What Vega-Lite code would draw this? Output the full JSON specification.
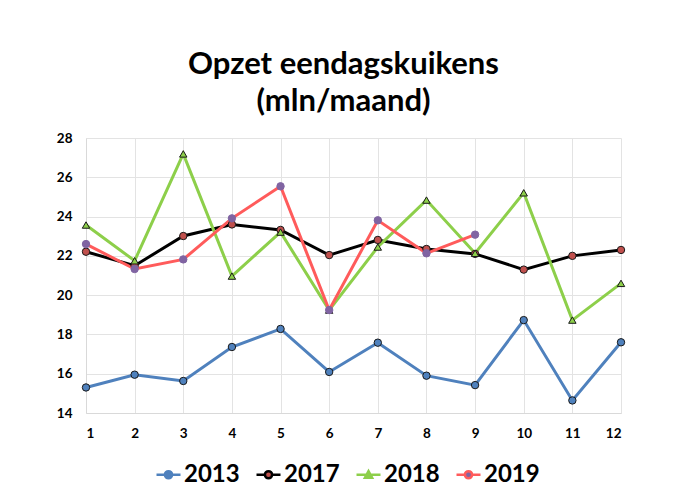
{
  "$schema": "https://vega.github.io/schema/vega-lite/v6.json",
  "width": 535,
  "height": 275,
  "autosize": {"type": "none"},
  "padding": {"left": 86, "top": 138, "right": 55, "bottom": 91},
  "background": "white",
  "title": {
    "text": ["Opzet eendagskuikens", "(mln/maand)"],
    "font": "Lato",
    "fontSize": 31,
    "fontWeight": "bold",
    "color": "#000000",
    "lineHeight": 37,
    "anchor": "middle",
    "dx": -10,
    "offset": 13
  },
  "data": {
    "values": [
      {"month": 1, "year": "2013", "value": 15.3},
      {"month": 2, "year": "2013", "value": 15.95},
      {"month": 3, "year": "2013", "value": 15.63},
      {"month": 4, "year": "2013", "value": 17.36},
      {"month": 5, "year": "2013", "value": 18.28},
      {"month": 6, "year": "2013", "value": 16.09},
      {"month": 7, "year": "2013", "value": 17.58},
      {"month": 8, "year": "2013", "value": 15.9},
      {"month": 9, "year": "2013", "value": 15.42},
      {"month": 10, "year": "2013", "value": 18.73},
      {"month": 11, "year": "2013", "value": 14.64},
      {"month": 12, "year": "2013", "value": 17.6},
      {"month": 1, "year": "2017", "value": 22.21},
      {"month": 2, "year": "2017", "value": 21.5},
      {"month": 3, "year": "2017", "value": 23.01},
      {"month": 4, "year": "2017", "value": 23.6},
      {"month": 5, "year": "2017", "value": 23.32},
      {"month": 6, "year": "2017", "value": 22.04},
      {"month": 7, "year": "2017", "value": 22.81},
      {"month": 8, "year": "2017", "value": 22.35},
      {"month": 9, "year": "2017", "value": 22.1},
      {"month": 10, "year": "2017", "value": 21.3},
      {"month": 11, "year": "2017", "value": 22.0},
      {"month": 12, "year": "2017", "value": 22.3},
      {"month": 1, "year": "2018", "value": 23.57},
      {"month": 2, "year": "2018", "value": 21.75},
      {"month": 3, "year": "2018", "value": 27.19},
      {"month": 4, "year": "2018", "value": 20.97},
      {"month": 5, "year": "2018", "value": 23.21},
      {"month": 6, "year": "2018", "value": 19.24},
      {"month": 7, "year": "2018", "value": 22.45},
      {"month": 8, "year": "2018", "value": 24.84},
      {"month": 9, "year": "2018", "value": 22.13},
      {"month": 10, "year": "2018", "value": 25.21},
      {"month": 11, "year": "2018", "value": 18.73},
      {"month": 12, "year": "2018", "value": 20.6},
      {"month": 1, "year": "2019", "value": 22.6},
      {"month": 2, "year": "2019", "value": 21.33},
      {"month": 3, "year": "2019", "value": 21.82},
      {"month": 4, "year": "2019", "value": 23.91},
      {"month": 5, "year": "2019", "value": 25.54},
      {"month": 6, "year": "2019", "value": 19.24},
      {"month": 7, "year": "2019", "value": 23.81},
      {"month": 8, "year": "2019", "value": 22.13},
      {"month": 9, "year": "2019", "value": 23.08}
    ]
  },
  "encoding": {
    "x": {
      "field": "month", "type": "quantitative",
      "scale": {"domain": [1, 12], "nice": false, "zero": false},
      "axis": {
        "title": null, "values": [1,2,3,4,5,6,7,8,9,10,11,12],
        "labelFont": "Lato", "labelFontSize": 13.5, "labelFontWeight": "bold", "labelColor": "#000",
        "labelPadding": 13, "ticks": false,
        "domainColor": "#D9D9D9", "gridColor": "#E3E3E3", "grid": true
      }
    },
    "y": {
      "field": "value", "type": "quantitative",
      "scale": {"domain": [14, 28], "nice": false, "zero": false},
      "axis": {
        "title": null, "values": [14,16,18,20,22,24,26,28],
        "labelFont": "Lato", "labelFontSize": 13.5, "labelFontWeight": "bold", "labelColor": "#000",
        "labelPadding": 14, "ticks": false,
        "domainColor": "#D9D9D9", "gridColor": "#E3E3E3", "grid": true
      }
    }
  },
  "layer": [
    {
      "mark": {"type": "line", "strokeWidth": 3},
      "encoding": {
        "color": {
          "field": "year", "type": "nominal",
          "scale": {"domain": ["2013","2017","2018","2019"], "range": ["#4F81BD","#000000","#8DCF4A","#FF5B5B"]},
          "legend": {
            "title": null, "orient": "none", "legendX": 69, "legendY": 323, "direction": "horizontal",
            "labelFont": "Lato", "labelFontSize": 24, "labelFontWeight": "bold", "labelColor": "#000",
            "labelOffset": 2, "columnPadding": 11,
            "symbolType": "M-1,0H-0.3M0.3,0H1M-0.3,0A0.3,0.3 0 1 1 0.3,0A0.3,0.3 0 1 1 -0.3,0Z",
            "symbolSize": 576, "symbolStrokeWidth": 2.5,
            "encode": {
              "symbols": {
                "update": {
                  "fill": {"signal": "datum.value == '2013' ? '#4F81BD' : datum.value == '2017' ? '#C0504D' : datum.value == '2018' ? '#8DCF4A' : '#8064A2'"},
                  "shape": {"signal": "datum.value == '2018' ? 'M-1,0H1M-0.3,0.25L0,-0.3L0.3,0.25Z' : 'M-1,0H-0.3M0.3,0H1M-0.3,0A0.3,0.3 0 1 1 0.3,0A0.3,0.3 0 1 1 -0.3,0Z'"}
                }
              }
            }
          }
        },
        "order": {"field": "month"}
      }
    },
    {
      "mark": {"type": "point", "filled": true, "opacity": 1, "strokeWidth": 1},
      "encoding": {
        "shape": {
          "field": "year", "type": "nominal",
          "scale": {"domain": ["2013","2017","2018","2019"], "range": ["circle","circle","triangle-up","circle"]},
          "legend": null
        },
        "fill": {
          "field": "year", "type": "nominal",
          "scale": {"domain": ["2013","2017","2018","2019"], "range": ["#4F81BD","#C0504D","#8DCF4A","#8064A2"]},
          "legend": null
        },
        "stroke": {
          "field": "year", "type": "nominal",
          "scale": {"domain": ["2013","2017","2018","2019"], "range": ["#1A1A1A","#1A1A1A","#1A1A1A","#8064A2"]},
          "legend": null
        },
        "size": {"value": 55}
      }
    }
  ],
  "resolve": {"scale": {"color": "independent", "fill": "independent", "stroke": "independent", "shape": "independent"}},
  "config": {"view": {"stroke": null}}
}
